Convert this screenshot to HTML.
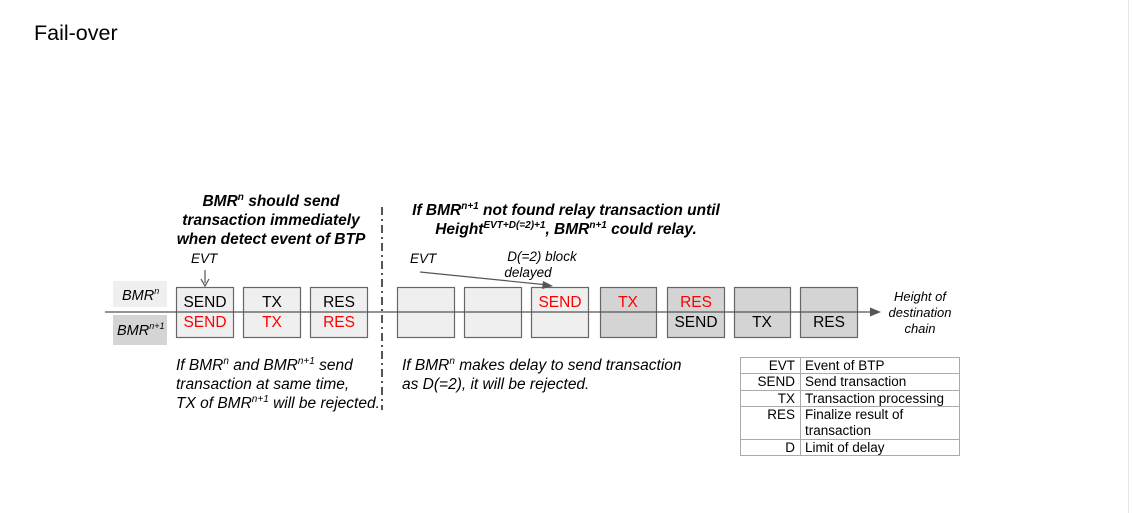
<!DOCTYPE html>
<html><head><meta charset="utf-8"><style>
html,body{margin:0;padding:0;background:#fff;}
svg{display:block;font-family:"Liberation Sans",Arial,sans-serif;}
</style></head><body>
<svg width="1132" height="513" viewBox="0 0 1132 513" xmlns="http://www.w3.org/2000/svg">
<line x1="1128.5" y1="0" x2="1128.5" y2="513" stroke="#e6e6e6"/>
<text x="34" y="40" font-size="21.5" fill="#000">Fail-over</text>

<!-- headings -->
<g font-size="15.5" font-weight="bold" font-style="italic" text-anchor="middle">
<text x="271" y="206">BMR<tspan font-size="10" dy="-6">n</tspan><tspan dy="6"> should send</tspan></text>
<text x="271" y="225">transaction immediately</text>
<text x="271" y="244">when detect event of BTP</text>
<text x="566" y="215">If BMR<tspan font-size="10" dy="-6">n+1</tspan><tspan dy="6"> not found relay transaction until</tspan></text>
<text x="566" y="234">Height<tspan font-size="10" dy="-6">EVT+D(=2)+1</tspan><tspan dy="6">, BMR</tspan><tspan font-size="10" dy="-6">n+1</tspan><tspan dy="6"> could relay.</tspan></text>
</g>

<!-- dashed divider -->
<line x1="382" y1="207" x2="382" y2="410" stroke="#555" stroke-width="2" stroke-dasharray="8,4,2,4"/>

<!-- BMR labels -->
<rect x="113" y="281" width="54" height="26" fill="#efefef"/>
<rect x="113" y="315" width="54" height="30" fill="#d4d4d4"/>
<g font-size="14.5" font-style="italic">
<text x="122" y="300">BMR<tspan font-size="9" dy="-6">n</tspan></text>
<text x="117" y="335">BMR<tspan font-size="9" dy="-6">n+1</tspan></text>
</g>

<!-- boxes -->
<g stroke="#666" stroke-width="1.2">
<rect x="176.5" y="287.5" width="57" height="50" fill="#efefef"/>
<rect x="243.5" y="287.5" width="57" height="50" fill="#efefef"/>
<rect x="310.5" y="287.5" width="57" height="50" fill="#efefef"/>
<rect x="397.5" y="287.5" width="57" height="50" fill="#efefef"/>
<rect x="464.5" y="287.5" width="57" height="50" fill="#efefef"/>
<rect x="531.5" y="287.5" width="57" height="50" fill="#efefef"/>
<rect x="600.5" y="287.5" width="56" height="50" fill="#d4d4d4"/>
<rect x="667.5" y="287.5" width="57" height="50" fill="#d4d4d4"/>
<rect x="734.5" y="287.5" width="56" height="50" fill="#d4d4d4"/>
<rect x="800.5" y="287.5" width="57" height="50" fill="#d4d4d4"/>
</g>
<g font-size="15.5" text-anchor="middle">
<text x="205" y="307">SEND</text><text x="272" y="307">TX</text><text x="339" y="307">RES</text>
<text x="205" y="327" fill="#f00">SEND</text><text x="272" y="327" fill="#f00">TX</text><text x="339" y="327" fill="#f00">RES</text>
<text x="560" y="307" fill="#f00">SEND</text><text x="628" y="307" fill="#f00">TX</text><text x="696" y="307" fill="#f00">RES</text>
<text x="696" y="327">SEND</text><text x="762" y="327">TX</text><text x="829" y="327">RES</text>
</g>

<!-- main line -->
<line x1="105" y1="312" x2="872" y2="312" stroke="#555" stroke-width="1.3"/>
<polygon points="881,312 870,307.5 870,316.5" fill="#555"/>
<g font-size="13" font-style="italic" text-anchor="middle">
<text x="920" y="301">Height of</text>
<text x="920" y="317">destination</text>
<text x="920" y="333">chain</text>
</g>

<!-- EVT markers -->
<g font-size="13.5" font-style="italic">
<text x="191" y="263">EVT</text>
<text x="410" y="263">EVT</text>
<text x="542" y="261" text-anchor="middle">D(=2) block</text>
<text x="528" y="277" text-anchor="middle">delayed</text>
</g>
<line x1="205" y1="270" x2="205" y2="283" stroke="#555" stroke-width="1.2"/>
<polyline points="201,279 205,286 209,279" fill="none" stroke="#555" stroke-width="1.2"/>
<line x1="420" y1="272" x2="548" y2="285" stroke="#555" stroke-width="1.2"/>
<polygon points="553,286 543,281 542,289" fill="#555"/>

<!-- bottom notes -->
<g font-size="15.5" font-style="italic">
<text x="176" y="370">If BMR<tspan font-size="10" dy="-6">n</tspan><tspan dy="6"> and BMR</tspan><tspan font-size="10" dy="-6">n+1</tspan><tspan dy="6"> send</tspan></text>
<text x="176" y="389">transaction at same time,</text>
<text x="176" y="408">TX of BMR<tspan font-size="10" dy="-6">n+1</tspan><tspan dy="6"> will be rejected.</tspan></text>
<text x="402" y="370">If BMR<tspan font-size="10" dy="-6">n</tspan><tspan dy="6"> makes delay to send transaction</tspan></text>
<text x="402" y="389">as D(=2), it will be rejected.</text>
</g>

<!-- legend table -->
<g stroke="#aaa" stroke-width="1" fill="none">
<rect x="740.5" y="357.5" width="219" height="98"/>
<line x1="800.5" y1="357.5" x2="800.5" y2="455.5"/>
<line x1="740.5" y1="373.5" x2="959.5" y2="373.5"/>
<line x1="740.5" y1="390.5" x2="959.5" y2="390.5"/>
<line x1="740.5" y1="406.5" x2="959.5" y2="406.5"/>
<line x1="740.5" y1="439.5" x2="959.5" y2="439.5"/>
</g>
<g font-size="13.5">
<g text-anchor="end">
<text x="795" y="370">EVT</text><text x="795" y="386">SEND</text><text x="795" y="403">TX</text><text x="795" y="419">RES</text><text x="795" y="452">D</text>
</g>
<text x="805" y="370">Event of BTP</text>
<text x="805" y="386">Send transaction</text>
<text x="805" y="403">Transaction processing</text>
<text x="805" y="419">Finalize result of</text>
<text x="805" y="435">transaction</text>
<text x="805" y="452">Limit of delay</text>
</g>
</svg>
</body></html>
